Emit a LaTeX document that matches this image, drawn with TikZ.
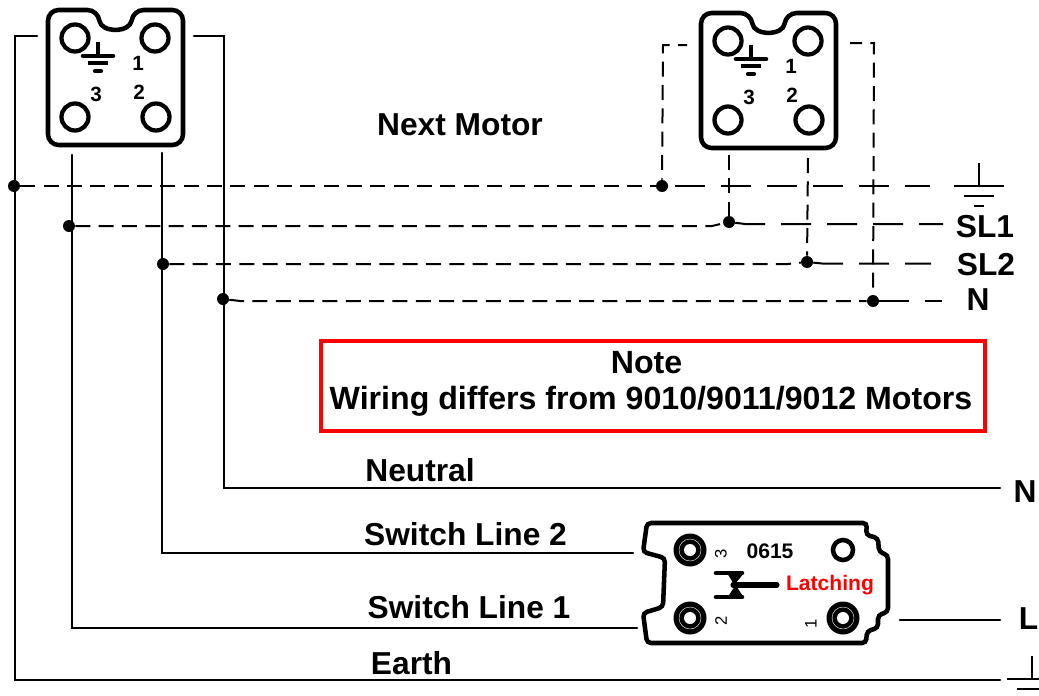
\documentclass[tikz,border=0pt]{standalone}
\usepackage{fontspec}
\setmainfont{Liberation Sans}
\tikzset{
	big/.style={inner sep=0pt,font=\fontsize{23.8}{28}\selectfont\bfseries},
	notetext/.style={inner sep=0pt,font=\fontsize{24.1}{28}\selectfont\bfseries},
	pin/.style={inner sep=0pt,font=\fontsize{15.5}{18}\selectfont\bfseries},
	tiny/.style={inner sep=0pt,font=\fontsize{12.5}{14}\selectfont,rotate=90},
	wire/.style={line width=1.9pt,line cap=round,line join=miter},
	shortdash/.style={line width=1.5pt,dash pattern=on 11.25pt off 6.25pt},
	longdash/.style={line width=1.5pt,dash pattern=on 22.5pt off 12pt},
	dot/.style={circle,fill=black,inner sep=0pt,minimum size=9pt},
	body/.style={line width=3.4pt,rounded corners=8pt},
	gnd/.style={line width=1.5pt}
}
\begin{document}
\begin{tikzpicture}[x=0.75pt,y=-0.75pt]
	\clip (0,0) rectangle (1039,696);
	% Motor plugs
	\foreach \m/\dx/\dy in {A/0/0,B/653/3}
	{
	\begin{scope}[shift={(\dx,\dy)}]
		\draw [body] (70,10) -- (98,10) .. controls (101,33) and (130,33) .. (133,10) -- (183,10) -- (183,145) -- (48,145) -- (48,10) -- cycle;
		\foreach \x/\y in {75/38,155/38,75/117,156/117}
		\draw [line width=3.2pt] (\x,\y) circle [radius=13.5];
		\draw [line width=3.2pt] (98,42) -- (98,56);
		\draw [line width=3.4pt,line cap=round] (83,56) -- (113,56);
		\draw [line width=3.2pt] (88,63) -- (108,63);
		\draw [line width=3.2pt,line cap=round] (95,71) -- (101,71);
		\node [pin] (one\m) at (138,63) {1};
		\node [pin] (two\m) at (139,92) {2};
		\node [pin] (three\m) at (96,94) {3};
	\end{scope}
	}
	% Junctions
	\node [dot] (earthA) at (14,186) {};
	\node [dot] (slonA) at (69,226) {};
	\node [dot] (sltwoA) at (163,264) {};
	\node [dot] (neutA) at (223,299) {};
	\node [dot] (earthB) at (662,186) {};
	\node [dot] (slonB) at (729,222) {};
	\node [dot] (sltwoB) at (807,262) {};
	\node [dot] (neutB) at (873,301) {};
	% Wire ends
	\coordinate (earthTop) at (37,36);
	\coordinate (earthCorner) at (15,36);
	\coordinate (earthLow) at (15,680);
	\coordinate (earthEnd) at (1000,680);
	\coordinate (neutTop) at (194,36);
	\coordinate (neutCorner) at (224,36);
	\coordinate (neutLow) at (224,488);
	\coordinate (neutEnd) at (1000,488);
	\coordinate (slonTop) at (72,155);
	\coordinate (slonLow) at (72,628);
	\coordinate (slonEnd) at (637,628);
	\coordinate (sltwoTop) at (162,153);
	\coordinate (sltwoLow) at (162,553);
	\coordinate (sltwoEnd) at (633,553);
	\coordinate (liveA) at (900,620);
	\coordinate (liveB) at (1000,620);
	\coordinate (earthRight) at (930,186);
	\coordinate (slonBendL) at (712,226);
	\coordinate (slonBendR) at (745,224);
	\coordinate (slonRight) at (943,224);
	\coordinate (sltwoBendL) at (788,264);
	\coordinate (sltwoBendR) at (822,263.5);
	\coordinate (sltwoRight) at (931,263.5);
	\coordinate (neutBend) at (240,301);
	\coordinate (neutRight) at (942,301);
	\coordinate (earthTopB) at (687,45);
	\coordinate (earthCornerB) at (663,45);
	\coordinate (neutTopB) at (850,43);
	\coordinate (neutCornerB) at (874,43);
	\coordinate (slonTopB) at (729,155);
	\coordinate (sltwoTopB) at (808,158);
	% Solid wires
	\draw [wire] (earthTop) -- (earthCorner) -- (earthLow) -- (earthEnd);
	\draw [wire] (neutTop) -- (neutCorner) -- (neutLow) -- (neutEnd);
	\draw [wire] (slonTop) -- (slonLow) -- (slonEnd);
	\draw [wire] (sltwoTop) -- (sltwoLow) -- (sltwoEnd);
	\draw [wire] (liveA) -- (liveB);
	% Dashed wires
	\draw [shortdash] (earthA) -- (earthB);
	\draw [longdash,dash phase=29.25pt] (earthB) -- (earthRight);
	\draw [shortdash] (slonA) -- (slonBendL) -- (slonB);
	\draw [longdash] (slonB) -- (slonBendR) -- (slonRight);
	\draw [shortdash] (sltwoA) -- (sltwoBendL) -- (sltwoB);
	\draw [longdash] (sltwoB) -- (sltwoBendR) -- (sltwoRight);
	\draw [shortdash] (neutA) -- (neutBend) -- (neutB);
	\draw [longdash] (neutB) -- (neutRight);
	\draw [shortdash,dash phase=4.5pt] (earthTopB) -- (earthCornerB) -- (earthB);
	\draw [shortdash,dash phase=2.25pt] (neutTopB) -- (neutCornerB) -- (neutB);
	\draw [shortdash] (slonTopB) -- (slonB);
	\draw [shortdash] (sltwoTopB) -- (sltwoB);
	% Earth symbols
	\foreach \x/\y in {979/186,1032/679}
	{
		\draw [gnd] (\x,\y-23) -- (\x,\y);
		\draw [line width=1.9pt] (\x-25,\y) -- (\x+25,\y);
		\draw [gnd] (\x-15,\y+10) -- (\x+15,\y+10);
		\draw [gnd] (\x-5,\y+20) -- (\x+5,\y+20);
	}
	% Labels
	\node [big] (motorText) at (460,125) {Next Motor};
	\node [big] (slonText) at (985,227) {SL1};
	\node [big] (sltwoText) at (986,265) {SL2};
	\node [big] (neutText) at (978,300) {N};
	\node [big] (neutralText) at (420,470) {Neutral};
	\node [big] (switchTwoText) at (465.5,534) {Switch Line 2};
	\node [big] (switchOneText) at (469,607) {Switch Line 1};
	\node [big] (earthText) at (411.5,663) {Earth};
	\node [big] (nEnd) at (1025,492) {N};
	\node [big] (lEnd) at (1028.5,619) {L};
	% Note
	\draw [red,line width=3.4pt] (321,341) rectangle (985,431);
	\node [notetext] (noteHead) at (646.5,363) {Note};
	\node [notetext] (noteBody) at (651,401.5) {Wiring differs from 9010/9011/9012 Motors};
	% Switch
	\draw [body,rounded corners=3pt] (700,523) -- (867,523) -- (866,535) -- (878,538) -- (879,552) -- (888,555) -- (888,612) -- (878,615) -- (878,628) -- (867,631) -- (866,643) -- (647,643) -- (643,613) -- (663,607) -- (665,558) -- (643,552) -- (647,523) -- cycle;
	\foreach \x/\y in {690/550,690/618,843/618}
	{
		\fill (\x,\y) circle [radius=16.5];
		\draw [white,line width=0.3pt] (\x,\y) circle [radius=11];
		\fill [white] (\x,\y) circle [radius=6];
	}
	\draw [line width=3.4pt] (843,550) circle [radius=10];
	\node [inner sep=0pt,font=\fontsize{15.8}{18}\selectfont\bfseries] (codeText) at (770,551) {0615};
	\node [inner sep=0pt,red,font=\fontsize{15.8}{18}\selectfont\bfseries] (latchText) at (830,585) {Latching};
	\node [tiny] (threeS) at (721,554) {3};
	\node [tiny] (twoS) at (721,621) {2};
	\node [tiny] (oneS) at (811,624) {1};
	% Latch symbol
	\draw [line width=3.4pt,line cap=round] (716,573) -- (742,573);
	\draw [line width=3.4pt,line cap=round] (716,597) -- (742,597);
	\fill (727,573) -- (744,573) -- (735,584) -- (744,598) -- (727,598) -- (735,586) -- cycle;
	\draw [line width=3.8pt,line cap=round] (733,585) -- (777,585);
\end{tikzpicture}
\end{document}
